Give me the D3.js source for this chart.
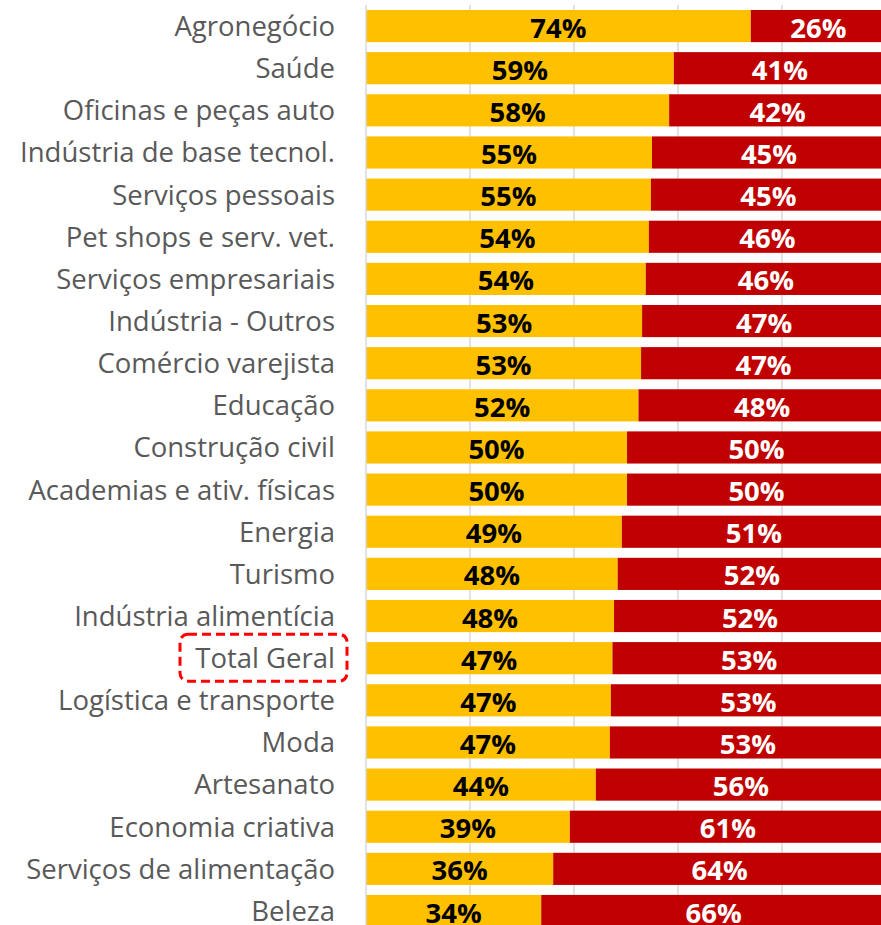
<!DOCTYPE html>
<html>
<head>
<meta charset="utf-8">
<script src="https://cdn.jsdelivr.net/npm/d3@7"></script>
<style>
  body { margin: 0; background: #fff; }
  svg { display: block; }
</style>
</head>
<body>
<div id="chart-area"></div>
<script>
var categories = [
  "Agronegócio", "Saúde", "Oficinas e peças auto", "Indústria de base tecnol.",
  "Serviços pessoais", "Pet shops e serv. vet.", "Serviços empresariais",
  "Indústria - Outros", "Comércio varejista", "Educação", "Construção civil",
  "Academias e ativ. físicas", "Energia", "Turismo", "Indústria alimentícia",
  "Total Geral", "Logística e transporte", "Moda", "Artesanato",
  "Economia criativa", "Serviços de alimentação", "Beleza"
];
var yesValues = [74.0, 59.2, 58.3, 55.0, 54.8, 54.4, 53.8, 53.1, 52.9, 52.4, 50.2,
  50.2, 49.2, 48.4, 47.7, 47.4, 47.1, 46.9, 44.2, 39.2, 36.0, 33.7];
var noValues = [26.0, 40.8, 41.7, 45.0, 45.2, 45.6, 46.2, 46.9, 47.1, 47.6, 49.8,
  49.8, 50.8, 51.6, 52.3, 52.6, 52.9, 53.1, 55.8, 60.8, 64.0, 66.3];
var xTicks = [0, 20, 40, 60, 80, 100];
var highlight = "Total Geral";

var width = 881, height = 925;

var rows = categories.map(function(c, i) {
  return { cat: c, yes: yesValues[i], no: noValues[i] };
});

var svg = d3.select("#chart-area")
  .append("svg")
  .attr("width", width)
  .attr("height", height);

var x = d3.scaleLinear().domain([0, 100]).range([366, 886]);
var y = d3.scaleBand()
  .domain(categories)
  .range([5, 5 + 22 * 42.14])
  .paddingInner(0.237)
  .paddingOuter(0.1185);

// gridlines
svg.selectAll(".grid")
  .data(xTicks.slice(1))
  .enter()
  .append("line")
  .attr("x1", function(d) { return x(d); })
  .attr("x2", function(d) { return x(d); })
  .attr("y1", 5)
  .attr("y2", height)
  .attr("stroke", "#d9d9d9")
  .attr("stroke-width", 1.5);

// yes bars
svg.selectAll(".yes")
  .data(rows)
  .enter()
  .append("rect")
  .attr("x", x(0))
  .attr("y", function(d) { return y(d.cat); })
  .attr("width", function(d) { return x(d.yes) - x(0); })
  .attr("height", y.bandwidth())
  .attr("fill", "#FFC000");

// no bars
svg.selectAll(".no")
  .data(rows)
  .enter()
  .append("rect")
  .attr("x", function(d) { return x(d.yes); })
  .attr("y", function(d) { return y(d.cat); })
  .attr("width", function(d) { return x(d.yes + d.no) - x(d.yes); })
  .attr("height", y.bandwidth())
  .attr("fill", "#C00000");

// axis line
svg.append("line")
  .attr("x1", x(0)).attr("x2", x(0))
  .attr("y1", 5).attr("y2", height)
  .attr("stroke", "#d9d9d9")
  .attr("stroke-width", 1.5);

// value labels
svg.selectAll(".yesLabel")
  .data(rows)
  .enter()
  .append("text")
  .attr("x", function(d) { return (x(0) + x(d.yes)) / 2; })
  .attr("y", function(d) { return y(d.cat) + y.bandwidth() / 2; })
  .attr("dy", "0.42em")
  .attr("text-anchor", "middle")
  .attr("font-family", "'Open Sans', 'Noto Sans', sans-serif")
  .attr("font-weight", "bold")
  .attr("font-size", 27.5)
  .attr("fill", "#000")
  .text(function(d) { return Math.round(d.yes) + "%"; });

svg.selectAll(".noLabel")
  .data(rows)
  .enter()
  .append("text")
  .attr("x", function(d) { return (x(d.yes) + x(d.yes + d.no)) / 2; })
  .attr("y", function(d) { return y(d.cat) + y.bandwidth() / 2; })
  .attr("dy", "0.42em")
  .attr("text-anchor", "middle")
  .attr("font-family", "'Open Sans', 'Noto Sans', sans-serif")
  .attr("font-weight", "bold")
  .attr("font-size", 27.5)
  .attr("fill", "#fff")
  .text(function(d) { return Math.round(d.no) + "%"; });

// category labels
svg.selectAll(".cat")
  .data(rows)
  .enter()
  .append("text")
  .attr("x", 335)
  .attr("y", function(d) { return y(d.cat) + y.bandwidth() / 2; })
  .attr("dy", "0.36em")
  .attr("text-anchor", "end")
  .attr("font-family", "'Open Sans', 'Noto Sans', sans-serif")
  .attr("font-size", 27.5)
  .attr("fill", "#595959")
  .text(function(d) { return d.cat; });

// highlight box around "Total Geral"
var hy = y(highlight) + y.bandwidth() / 2;
svg.append("rect")
  .attr("x", 180)
  .attr("y", hy - 24)
  .attr("width", 167)
  .attr("height", 47)
  .attr("rx", 8)
  .attr("fill", "none")
  .attr("stroke", "#FF0000")
  .attr("stroke-width", 3)
  .attr("stroke-dasharray", "9,5");
</script>
</body>
</html>
